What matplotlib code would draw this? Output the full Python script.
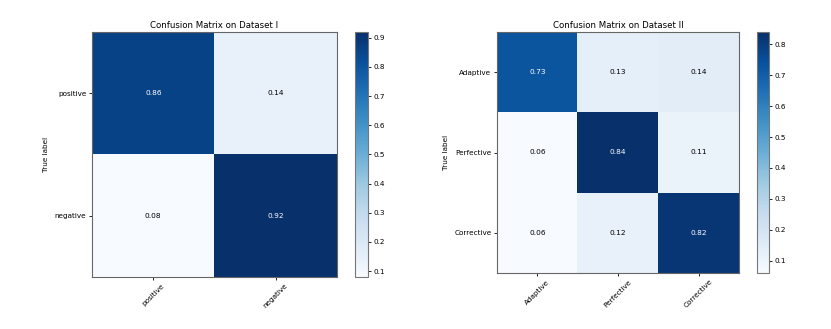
import numpy as np
import matplotlib
matplotlib.use("Agg")
import matplotlib.pyplot as plt

# dataset I
labels1 = ["positive", "negative"]
cm1 = np.array([[0.86, 0.14],
                [0.08, 0.92]])
title1 = "Confusion Matrix on Dataset I"

# dataset II
labels2 = ["Adaptive", "Perfective", "Corrective"]
cm2 = np.array([[0.73, 0.13, 0.14],
                [0.06, 0.84, 0.11],
                [0.06, 0.12, 0.82]])
title2 = "Confusion Matrix on Dataset II"

W, H = 831, 329
fig = plt.figure(figsize=(W / 100, H / 100), dpi=100)


def box(x0, y0, x1, y1):
    # pixel box -> figure fraction
    return [x0 / W, 1 - y1 / H, (x1 - x0) / W, (y1 - y0) / H]


def plot_cm(ax, cax, cm, labels, title):
    im = ax.imshow(cm, interpolation="nearest", cmap=plt.cm.Blues, aspect="auto")
    ax.set_title(title, fontsize=6.2, pad=3)
    cb = fig.colorbar(im, cax=cax)
    cb.ax.tick_params(labelsize=5.2, length=2.5, width=0.6, pad=1.5)
    cb.outline.set_edgecolor("#777777")
    ticks = np.arange(len(labels))
    ax.set_xticks(ticks)
    ax.set_xticklabels(labels, rotation=45, fontsize=5.2)
    ax.set_yticks(ticks)
    ax.set_yticklabels(labels, fontsize=5.2)
    ax.tick_params(length=2.5, width=0.6, pad=1.5)
    thresh = cm.max() / 2.0
    for i in range(cm.shape[0]):
        for j in range(cm.shape[1]):
            ax.text(j, i, format(cm[i, j], ".2f"), ha="center", va="center",
                    fontsize=5.3, color="white" if cm[i, j] > thresh else "black")
    ax.set_ylabel("True label", fontsize=5.2, labelpad=4)
    for s in ax.spines.values():
        s.set_edgecolor("#666666")


ax1 = fig.add_axes(box(92, 32, 337, 277))
cax1 = fig.add_axes(box(355, 32, 368, 277))
plot_cm(ax1, cax1, cm1, labels1, title1)

ax2 = fig.add_axes(box(497, 32, 739, 273))
cax2 = fig.add_axes(box(757, 32, 769, 273))
plot_cm(ax2, cax2, cm2, labels2, title2)

fig.savefig("out.png", dpi=100)
